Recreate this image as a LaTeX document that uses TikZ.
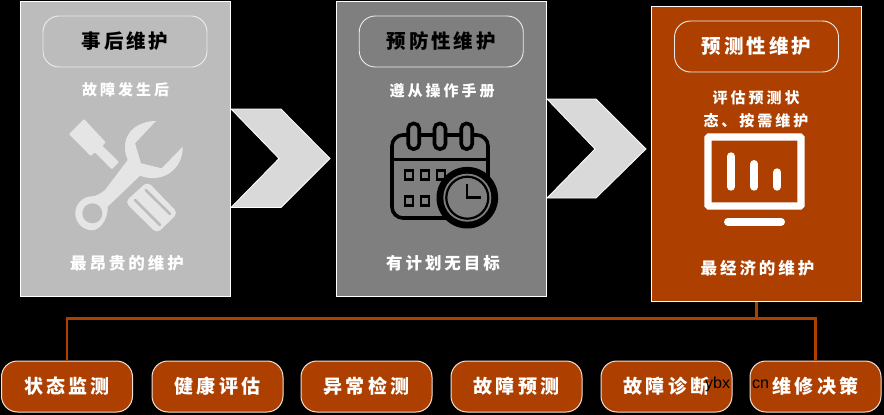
\documentclass[tikz,border=0pt]{standalone}
\usepackage{fontspec}
\setmainfont{Noto Sans CJK SC}
\usepackage{tikz}
\usetikzlibrary{shapes}

\definecolor{rust}{HTML}{AD4000}
\definecolor{lightcard}{HTML}{BCBCBC}
\definecolor{darkcard}{HTML}{7F7F7F}

\begin{document}
\begin{tikzpicture}[x=1pt,y=-1pt]
    \tikzstyle{card}=[rectangle, draw=white, line width=1pt, minimum width=210pt, minimum height=295pt, inner sep=0pt]
    \tikzstyle{pill}=[rectangle, rounded corners=16pt, draw=white!85!gray, line width=.9pt, minimum width=164pt, minimum height=51pt, inner sep=0pt, font=\fontsize{19.5}{19.5}\selectfont\bfseries\addfontfeature{LetterSpace=15}]
    \tikzstyle{note}=[inner sep=0pt, white, align=center, font=\fontsize{15}{22.5}\selectfont\bfseries\addfontfeature{LetterSpace=20}]
    \tikzstyle{lownote}=[inner sep=0pt, white, font=\fontsize{16.5}{16.5}\selectfont\bfseries\addfontfeature{LetterSpace=18}]
    \tikzstyle{task}=[rectangle, rounded corners=16pt, draw=white!85!rust, fill=rust, line width=1pt, minimum width=131pt, minimum height=51pt, inner sep=0pt, text=white, font=\fontsize{19}{19}\selectfont\bfseries\addfontfeature{LetterSpace=17}]
    \tikzstyle{chevron}=[draw=white, line width=.8pt, fill=black!15]
    \tikzstyle{link}=[draw=rust, line width=2.7pt]
    \tikzstyle{wmark}=[inner sep=0pt, anchor=west, black, font=\fontsize{16}{16}\selectfont\fontspec{Liberation Sans}]
    \tikzstyle{toolicon}=[fill=black!10]
    \tikzstyle{calline}=[draw=black, line width=3.6pt]
    \tikzstyle{screenline}=[draw=white, line width=8pt, line cap=round]

    \useasboundingbox (0,0) rectangle (884,415);
    \fill[black] (0,0) rectangle (884,415);

    % three cards
    \node[card, fill=lightcard] (after) at (125,148.5) {};
    \node[card, fill=darkcard] (prevent) at (441,148.5) {};
    \node[card, fill=rust] (predict) at (756.75,154) {};

    \node[pill] (after title) at (125,41.5) {事后维护};
    \node[pill] (prevent title) at (441.25,41.5) {预防性维护};
    \node[pill, text=white] (predict title) at (756.5,46.5) {预测性维护};

    \node[note] (after top) at (125.5,90) {故障发生后};
    \node[lownote] (after low) at (127,263) {最昂贵的维护};
    \node[note] (prevent top) at (442,91) {遵从操作手册};
    \node[lownote] (prevent low) at (443,263) {有计划无目标};
    \node[note] (predict top) at (756,109.5) {评估预测状\\态、按需维护};
    \node[lownote] (predict low) at (757.5,268) {最经济的维护};

    % arrows between the cards
    \draw[chevron] (231,109) -- (281,109) -- (330,158.5) -- (281,207.5) -- (231,207.5) -- (279,158.5) -- cycle;
    \draw[chevron] (547,99) -- (596,99) -- (646,149) -- (596,198) -- (547,198) -- (595,149) -- cycle;

    % tools
    \fill[toolicon, rounded corners=1pt] (84,119) -- (69,134) -- (90.7,156) -- (95,152.3) -- (111.7,169.3) -- (119,162) -- (102.3,145.7) -- (105.7,142.3) -- cycle;
    \fill[toolicon] (156,121) .. controls (140,121) and (125,130) .. (125,147) .. controls (125,152) and (126,156) .. (127.7,160) -- (105,190) .. controls (100,194) and (96,196) .. (92.3,196.3) arc (-90:-270:17) .. controls (98,230.3) and (108,222) .. (107.7,206.7) -- (140,175.7) .. controls (162,184) and (183,170) .. (182.7,146.7) -- (161.7,168.3) -- (141,163.3) -- (135,143.3) -- cycle;
    \fill[lightcard] (92.3,213.3) circle (10);
    \fill[toolicon, rounded corners=5pt] (125,202) -- (147.5,181.5) -- (178,213) -- (157,233.5) -- cycle;
    \draw[lightcard, line width=2.6pt, line cap=round] (135,200) -- (160,225);
    \draw[lightcard, line width=2.6pt, line cap=round] (145.7,190) -- (170,214);

    % calendar
    \draw[calline, rounded corners=11pt] (392,135) rectangle (488,218);
    \draw[calline] (392,159.3) -- (488,159.3);
    \foreach \ringx in {413.7,440,466.7}
        \draw[calline, fill=darkcard, rounded corners=5pt] (\ringx-5.5,123.5) rectangle (\ringx+5.5,149);
    \foreach \boxx/\boxy in {409/175,425/175,440.7/175,409/201,425/201}
        \draw[draw=black, line width=2.4pt] (\boxx-4,\boxy-4.5) rectangle (\boxx+4,\boxy+4.5);
    \fill[black] (467.3,197.7) circle (30.8);
    \fill[darkcard] (467.3,197.7) circle (24);
    \draw[black, line width=2.2pt] (467.3,197.7) circle (21);
    \draw[black, line width=2.4pt] (466.7,184) -- (466.7,197.3) -- (481,197.3);

    % screen
    \draw[draw=white, line width=7.4pt, rounded corners=1pt] (708,137) rectangle (801,206);
    \draw[screenline] (731,156.3) -- (731,186.7);
    \draw[screenline] (754.3,164) -- (754.3,186.7);
    \draw[screenline] (777.3,172.3) -- (777.3,186.7);
    \draw[screenline] (728,221.7) -- (781,221.7);

    % six tasks
    \node[task] (monitor) at (67,386.5) {状态监测};
    \node[task] (health) at (217.5,386.5) {健康评估};
    \node[task] (anomaly) at (366.5,386.5) {异常检测};
    \node[task] (forecast) at (516.5,386.5) {故障预测};
    \node[task] (diagnose) at (666.5,386.5) {故障诊断};
    \node[task] (decide) at (815.5,386.5) {维修决策};

    \coordinate (bus) at (756.75,318.5);
    \draw[link] (predict.south) -- (bus);
    \draw[link] (monitor.north) |- (bus) -| (decide.north);

    \node[wmark] (mark left) at (705,384) {ybx};
    \node[wmark] (mark right) at (752,384) {cn};
\end{tikzpicture}
\end{document}
